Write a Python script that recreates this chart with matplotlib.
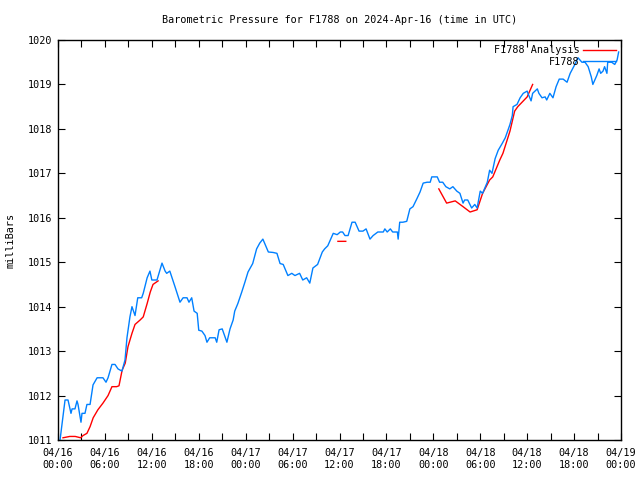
import numpy as np
import matplotlib
matplotlib.use("Agg")
import matplotlib.pyplot as plt

# hours since 2024-04-16 00:00 UTC, pressure in mbar
obs_hours = [0.26, 0.9, 1.28, 1.66, 1.8, 2.17, 2.43, 2.56, 2.94, 3.07, 3.45, 3.7, 4.1, 4.48,
             5.0, 5.37, 5.75, 6.14, 6.4, 6.9, 7.29, 7.67, 8.18, 8.57, 8.82, 9.2, 9.46, 9.85,
             10.2, 10.7, 10.9, 11.4, 11.76, 12.0, 12.66, 13.3, 13.7, 13.9, 14.3, 14.96, 15.6,
             16.0, 16.5, 16.75, 17.1, 17.4, 17.8, 18.0, 18.4, 18.8, 19.05, 19.4, 20.1, 20.3,
             20.6, 21.0, 21.2, 21.6, 22.0, 22.4, 22.6, 23.0, 23.5, 23.9, 24.3, 24.9, 25.4,
             25.8, 26.2, 26.9, 27.5, 28.0, 28.4, 28.8, 29.4, 29.9, 30.3, 30.9, 31.3, 31.8,
             32.2, 32.6, 33.2, 33.8, 34.1, 34.5, 35.2, 35.7, 36.1, 36.4, 36.7, 37.1, 37.6,
             38.0, 38.5, 39.0, 39.4, 39.9, 40.3, 40.9, 41.6, 41.8, 42.1, 42.5, 42.8, 43.4,
             43.5, 43.7, 44.1, 44.6, 45.0, 45.4, 45.9, 46.3, 46.7, 47.2, 47.6, 47.8, 48.5,
             48.8, 49.2, 49.6, 50.1, 50.5, 51.0, 51.4, 51.8, 52.0, 52.4, 52.9, 53.3, 53.6,
             54.0, 54.3, 54.9, 55.2, 55.5, 55.9, 56.3, 56.8, 57.2, 57.5, 57.8, 58.1, 58.2,
             58.7, 59.1, 59.5, 60.0, 60.1, 60.5, 60.7, 61.3, 61.5, 61.9, 62.3, 62.5, 62.9,
             63.3, 63.7, 64.1, 64.6, 65.1, 65.5, 66.1, 66.5, 67.0, 67.4, 67.8, 68.2, 68.4,
             68.9, 69.2, 69.4, 69.7, 69.9, 70.2, 70.3, 70.8, 71.2, 71.5, 71.7]
obs_mbar = [1011.0, 1011.9, 1011.9, 1011.6, 1011.7, 1011.7, 1011.88, 1011.8, 1011.4, 1011.6,
            1011.6, 1011.8, 1011.8, 1012.24, 1012.4, 1012.4, 1012.4, 1012.3, 1012.4, 1012.7,
            1012.7, 1012.6, 1012.55, 1012.8, 1013.3, 1013.77, 1014.0, 1013.8, 1014.2, 1014.2,
            1014.3, 1014.65, 1014.8, 1014.6, 1014.6, 1014.98, 1014.8, 1014.75, 1014.8, 1014.45,
            1014.1, 1014.2, 1014.2, 1014.1, 1014.2, 1013.9, 1013.85, 1013.47, 1013.45, 1013.35,
            1013.2, 1013.3, 1013.3, 1013.2, 1013.48, 1013.5, 1013.4, 1013.2, 1013.5, 1013.7,
            1013.9, 1014.07, 1014.33, 1014.55, 1014.78, 1014.97, 1015.3, 1015.43, 1015.52,
            1015.23, 1015.22, 1015.2, 1014.97, 1014.95, 1014.7, 1014.75, 1014.7, 1014.75,
            1014.6, 1014.65, 1014.53, 1014.87, 1014.95, 1015.23, 1015.3, 1015.37, 1015.65,
            1015.62, 1015.68, 1015.68, 1015.6, 1015.6, 1015.9, 1015.9, 1015.7, 1015.7, 1015.75,
            1015.52, 1015.6, 1015.68, 1015.68, 1015.75, 1015.68, 1015.75, 1015.68, 1015.68,
            1015.52, 1015.9, 1015.9, 1015.92, 1016.2, 1016.25, 1016.43, 1016.58, 1016.78,
            1016.8, 1016.8, 1016.92, 1016.92, 1016.8, 1016.8, 1016.7, 1016.65, 1016.7, 1016.6,
            1016.55, 1016.33, 1016.4, 1016.4, 1016.22, 1016.3, 1016.22, 1016.6, 1016.55,
            1016.8, 1017.07, 1017.0, 1017.33, 1017.52, 1017.67, 1017.8, 1017.95, 1018.1,
            1018.3, 1018.5, 1018.55, 1018.7, 1018.8, 1018.85, 1018.8, 1018.63, 1018.8, 1018.9,
            1018.8, 1018.7, 1018.72, 1018.65, 1018.8, 1018.7, 1018.95, 1019.12, 1019.12,
            1019.05, 1019.25, 1019.45, 1019.6, 1019.5, 1019.5, 1019.4, 1019.17, 1019.0, 1019.2,
            1019.35, 1019.25, 1019.3, 1019.4, 1019.25, 1019.5, 1019.5, 1019.45, 1019.55, 1019.73]

# analysis series, None marks a gap
ana_hours = [0.64, 1.5, 2.2, 2.9, 3.2, 3.7, 4.1, 4.5, 5.1, 5.75, 6.4, 6.9, 7.5, 7.8, 8.2, 8.6,
             8.95, 9.46, 9.85, 10.5, 10.9, 11.4, 11.8, 12.15, 12.8, None,
             35.8, 36.8, None,
             48.7, 49.7, 50.8, 51.8, 52.7, 53.6, 54.3, 55.2, 55.6, 56.5, 56.9, 57.8, 58.4,
             58.8, 60.0, 60.7]
ana_mbar = [1011.05, 1011.08, 1011.08, 1011.05, 1011.1, 1011.15, 1011.3, 1011.5, 1011.68,
            1011.83, 1012.0, 1012.2, 1012.2, 1012.22, 1012.57, 1012.73, 1013.1, 1013.4,
            1013.6, 1013.7, 1013.77, 1014.07, 1014.33, 1014.5, 1014.58, None,
            1015.47, 1015.47, None,
            1016.65, 1016.33, 1016.38, 1016.25, 1016.13, 1016.18, 1016.55, 1016.85, 1016.92,
            1017.3, 1017.45, 1017.95, 1018.4, 1018.5, 1018.72, 1019.0]

tick_hours = list(range(0, 73, 6))
tick_labels = ["04/16\n00:00", "04/16\n06:00", "04/16\n12:00", "04/16\n18:00",
               "04/17\n00:00", "04/17\n06:00", "04/17\n12:00", "04/17\n18:00",
               "04/18\n00:00", "04/18\n06:00", "04/18\n12:00", "04/18\n18:00",
               "04/19\n00:00"]

plt.rcParams['font.family'] = ['DejaVu Sans Mono']
plt.rcParams['font.size'] = 7.3

fig = plt.figure(figsize=(6.4, 4.8), dpi=100)
ax = fig.add_axes([58 / 640, 40 / 480, 563 / 640, 400 / 480])

ana_x = np.array([np.nan if v is None else v for v in ana_hours], dtype=float)
ana_y = np.array([np.nan if v is None else v for v in ana_mbar], dtype=float)

ax.plot(ana_x, ana_y, color='#ff0000', lw=1.0, label='F1788 Analysis')
ax.plot(obs_hours, obs_mbar, color='#0080ff', lw=1.0, label='F1788')

ax.set_xlim(0, 72)
ax.set_ylim(1011, 1020)
ax.set_xticks(tick_hours)
ax.set_xticklabels(tick_labels)
ax.set_xticks(range(0, 73, 3), minor=True)
ax.set_yticks(range(1011, 1021))
ax.tick_params(which='both', direction='in', top=True, right=True, length=5,
               width=0.8, pad=6, labelsize=7.3)
ax.tick_params(axis='y', pad=4)
for s in ax.spines.values():
    s.set_linewidth(1.0)

ax.set_ylabel('milliBars', labelpad=9)
ax.set_title('Barometric Pressure for F1788 on 2024-Apr-16 (time in UTC)',
             fontsize=7.3, pad=12)

leg = ax.legend(loc='upper right', frameon=False, markerfirst=False, handlelength=3.2,
                borderaxespad=0.1, labelspacing=0.15, handletextpad=0.4)
for t in leg.get_texts():
    t.set_ha('right')

fig.savefig('out.png', dpi=100)
